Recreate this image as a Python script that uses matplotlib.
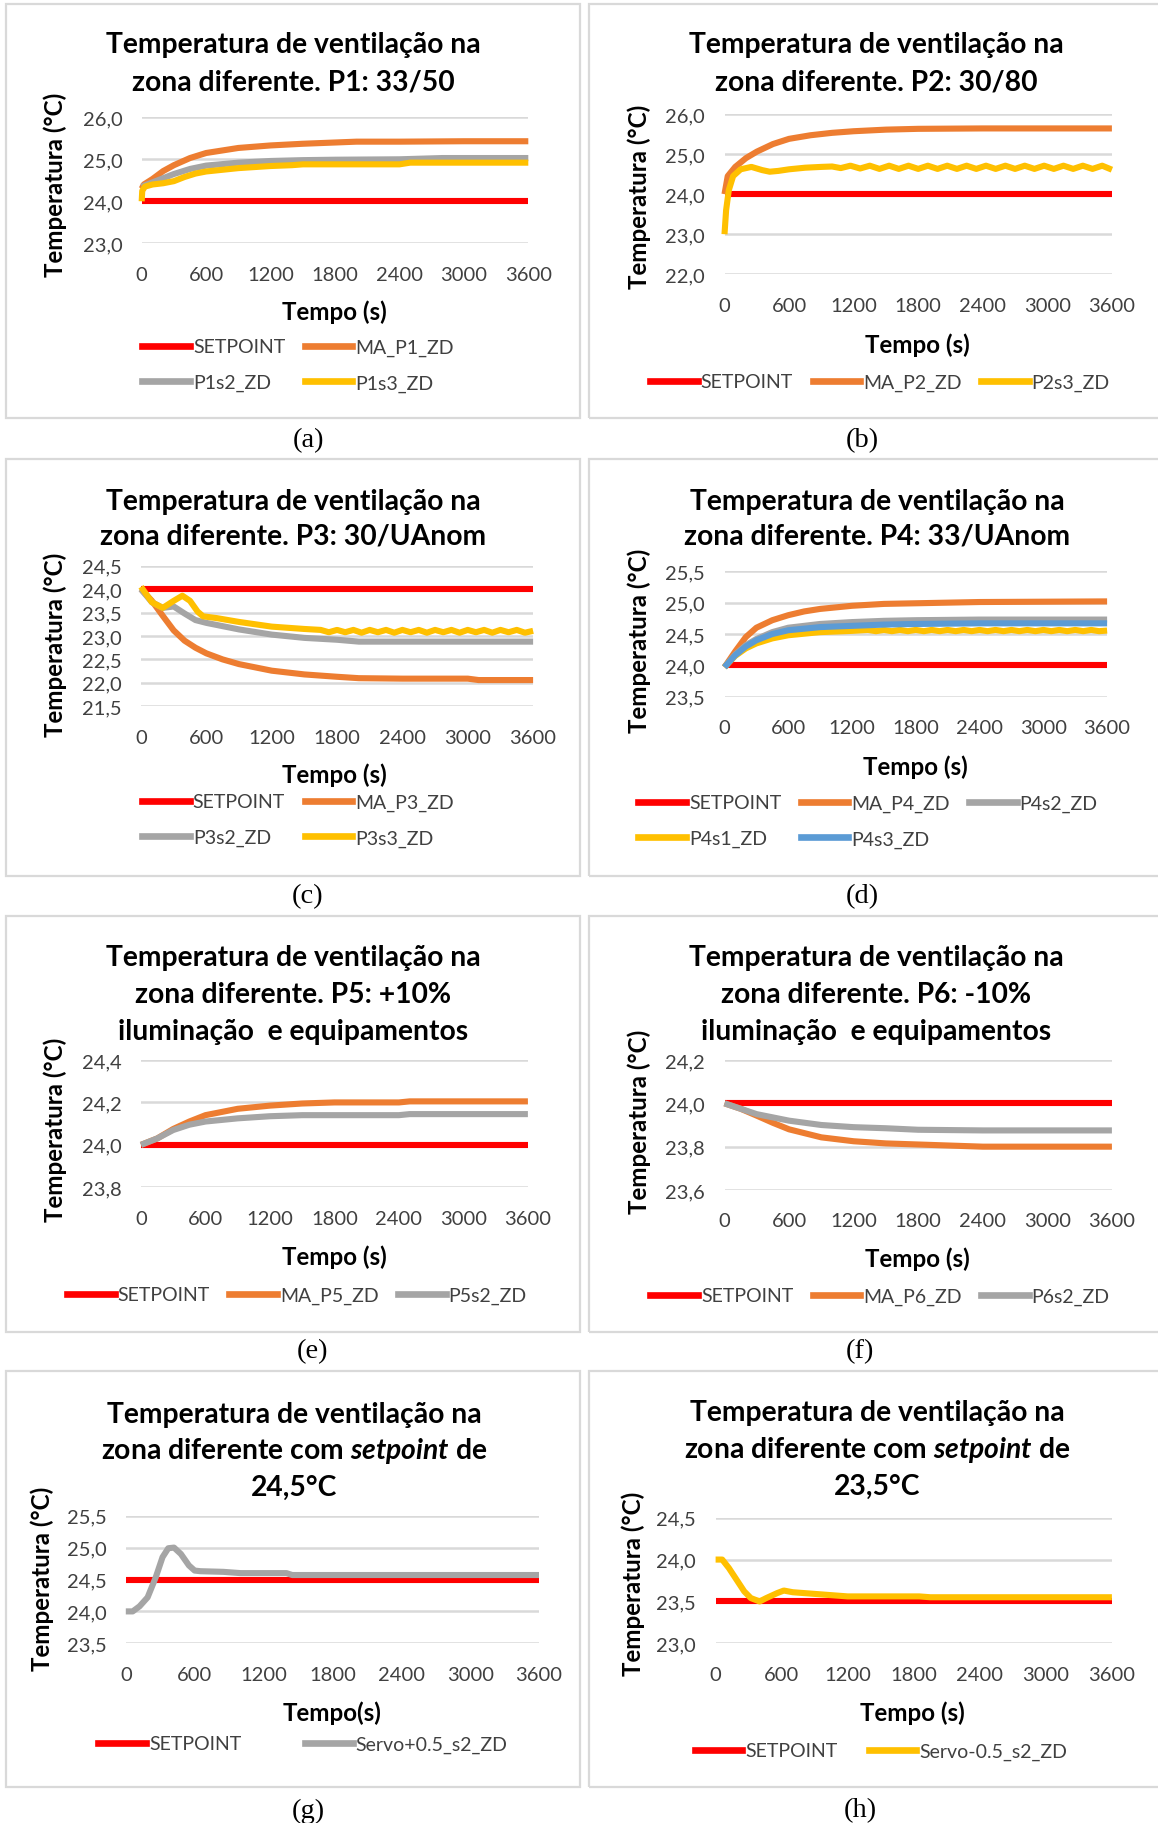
import numpy as np
import matplotlib
matplotlib.use('Agg')
import matplotlib.pyplot as plt
from matplotlib.patches import Rectangle
from matplotlib.lines import Line2D

plt.rcParams['font.family'] = ['Lato', 'DejaVu Sans']
plt.rcParams['mathtext.fontset'] = 'custom'
plt.rcParams['mathtext.rm'] = 'Lato:bold'
plt.rcParams['mathtext.it'] = 'Lato:italic:bold'
plt.rcParams['mathtext.bf'] = 'Lato:bold'

# ---- data ----
T_FULL = [0, 3600]

# (a) P1: 33/50
SP_A = [24.0, 24.0]
T_MA_P1 = [0, 20, 100, 200, 300, 450, 600, 900, 1200, 1500, 1800, 2000, 2400, 3000, 3600]
MA_P1 = [24.3, 24.4, 24.53, 24.72, 24.86, 25.03, 25.15, 25.27, 25.33, 25.37, 25.40, 25.42, 25.42, 25.43, 25.43]
T_P1S2 = [0, 100, 200, 300, 450, 600, 900, 1200, 1500, 1800, 2400, 2800, 3600]
P1S2 = [24.35, 24.45, 24.55, 24.65, 24.77, 24.85, 24.92, 24.96, 24.98, 24.99, 25.0, 25.03, 25.03]
T_P1S3 = [0, 5, 30, 100, 200, 300, 400, 500, 600, 900, 1200, 1400, 1500, 2400, 2500, 3600]
P1S3 = [24.0, 24.25, 24.35, 24.4, 24.43, 24.48, 24.58, 24.66, 24.71, 24.79, 24.84, 24.86, 24.88, 24.88, 24.92, 24.92]

# (b) P2: 30/80
SP_B = [24.0, 24.0]
T_MA_P2 = [0, 30, 100, 200, 300, 450, 600, 800, 1000, 1200, 1500, 1800, 2400, 3600]
MA_P2 = [24.0, 24.45, 24.68, 24.9, 25.06, 25.25, 25.38, 25.47, 25.53, 25.57, 25.61, 25.63, 25.64, 25.64]
T_P2S3 = [0, 15, 40, 80, 150, 250, 350, 420, 500, 600, 750, 900, 1000] + list(range(1080, 3601, 90))
P2S3 = [23.0, 23.6, 24.1, 24.45, 24.62, 24.68, 24.6, 24.56, 24.58, 24.62, 24.66, 24.68, 24.69,
        24.65, 24.71, 24.64, 24.71, 24.63, 24.71, 24.63, 24.71, 24.63, 24.71, 24.63, 24.71,
        24.63, 24.71, 24.63, 24.71, 24.63, 24.71, 24.63, 24.71, 24.63, 24.71, 24.63, 24.71,
        24.63, 24.71, 24.63, 24.71, 24.61]

# (c) P3: 30/UAnom
SP_C = [24.0, 24.0]
T_MA_P3 = [0, 100, 200, 300, 400, 500, 600, 750, 900, 1200, 1500, 1800, 2000, 2400, 3000, 3100, 3600]
MA_P3 = [24.0, 23.75, 23.43, 23.12, 22.9, 22.75, 22.63, 22.5, 22.4, 22.26, 22.18, 22.13, 22.1, 22.09, 22.09, 22.06, 22.06]
T_P3S2 = [0, 100, 200, 300, 400, 500, 600, 900, 1200, 1500, 1800, 2000, 3600]
P3S2 = [24.0, 23.72, 23.6, 23.63, 23.48, 23.34, 23.28, 23.14, 23.03, 22.96, 22.92, 22.88, 22.88]
T_P3S3 = [0, 100, 200, 300, 380, 450, 520, 570, 700, 900, 1200, 1500] + list(range(1650, 3601, 75))
P3S3 = [24.05, 23.72, 23.6, 23.75, 23.86, 23.75, 23.52, 23.42, 23.38, 23.3, 23.2, 23.15,
        23.13, 23.08, 23.13, 23.08, 23.13, 23.07, 23.13, 23.08, 23.13, 23.07, 23.13, 23.08,
        23.13, 23.07, 23.13, 23.08, 23.13, 23.07, 23.13, 23.08, 23.13, 23.07, 23.13, 23.08,
        23.13, 23.07, 23.11]

# (d) P4: 33/UAnom
SP_D = [24.0, 24.0]
T_MA_P4 = [0, 100, 200, 300, 450, 600, 750, 900, 1200, 1500, 1800, 2400, 3600]
MA_P4 = [23.97, 24.22, 24.45, 24.6, 24.72, 24.8, 24.86, 24.9, 24.95, 24.98, 24.99, 25.01, 25.02]
T_P4 = [0, 100, 200, 300, 450, 600, 900, 1200, 1500, 1800, 2400, 3600]
P4S2 = [23.97, 24.17, 24.32, 24.42, 24.53, 24.6, 24.66, 24.69, 24.71, 24.72, 24.73, 24.73]
P4S3 = [23.97, 24.16, 24.3, 24.4, 24.5, 24.56, 24.61, 24.63, 24.65, 24.66, 24.67, 24.67]
T_P4S1 = [0, 100, 200, 300, 450, 600, 900, 1200] + list(range(1350, 3601, 75))
P4S1 = [23.97, 24.15, 24.27, 24.35, 24.43, 24.48, 24.53, 24.55,
        24.565, 24.545, 24.565, 24.545, 24.565, 24.545, 24.565, 24.545, 24.565, 24.545, 24.565,
        24.545, 24.565, 24.545, 24.565, 24.545, 24.565, 24.545, 24.565, 24.545, 24.565, 24.545,
        24.565, 24.545, 24.565, 24.545, 24.565, 24.545, 24.565, 24.545, 24.555]

# (e) P5: +10%
SP_E = [24.0, 24.0]
T_P5 = [0, 150, 300, 450, 600, 900, 1200, 1500, 1800, 2400, 2500, 3600]
MA_P5 = [24.0, 24.03, 24.075, 24.11, 24.14, 24.17, 24.185, 24.195, 24.2, 24.2, 24.205, 24.205]
P5S2 = [24.0, 24.03, 24.07, 24.095, 24.11, 24.125, 24.135, 24.14, 24.14, 24.14, 24.145, 24.145]

# (f) P6: -10%
SP_F = [24.0, 24.0]
T_P6 = [0, 150, 300, 450, 600, 900, 1200, 1500, 1800, 2400, 3600]
MA_P6 = [24.0, 23.975, 23.943, 23.91, 23.88, 23.843, 23.825, 23.815, 23.81, 23.8, 23.8]
P6S2 = [24.0, 23.975, 23.95, 23.935, 23.92, 23.9, 23.89, 23.885, 23.878, 23.875, 23.875]

# (g) setpoint 24,5
SP_G = [24.5, 24.5]
T_SERVO_P = [0, 60, 120, 190, 260, 320, 370, 420, 480, 550, 600, 650, 850, 1000, 1400, 1450, 3600]
SERVO_P = [24.0, 24.0, 24.08, 24.22, 24.53, 24.85, 24.99, 25.0, 24.9, 24.72, 24.64, 24.63, 24.62, 24.6, 24.6, 24.57, 24.57]

# (h) setpoint 23,5
SP_H = [23.5, 23.5]
T_SERVO_M = [0, 60, 120, 200, 260, 320, 400, 460, 560, 620, 700, 900, 1200, 1850, 1950, 3600]
SERVO_M = [24.0, 24.0, 23.9, 23.74, 23.62, 23.54, 23.5, 23.54, 23.6, 23.63, 23.61, 23.59, 23.56, 23.56, 23.55, 23.55]

X_TICKS = [0, 600, 1200, 1800, 2400, 3000, 3600]

RED = '#FF0000'
ORANGE = '#ED7D31'
GRAY = '#A5A5A5'
YELLOW = '#FFC000'
BLUE = '#5B9BD5'

TITLE_A = 'Temperatura de ventilação na'

panels = [
    dict(tag='(a)', title=[TITLE_A, 'zona diferente. P1: 33/50'],
         series=[('SETPOINT', T_FULL, SP_A, RED), ('MA_P1_ZD', T_MA_P1, MA_P1, ORANGE),
                 ('P1s2_ZD', T_P1S2, P1S2, GRAY), ('P1s3_ZD', T_P1S3, P1S3, YELLOW)],
         legend_order=[0, 2, 1, 3], ncol=2, yticks=[23.0, 24.0, 25.0, 26.0], xlabel='Tempo (s)'),
    dict(tag='(b)', title=[TITLE_A, 'zona diferente. P2: 30/80'],
         series=[('SETPOINT', T_FULL, SP_B, RED), ('MA_P2_ZD', T_MA_P2, MA_P2, ORANGE),
                 ('P2s3_ZD', T_P2S3, P2S3, YELLOW)],
         legend_order=[0, 1, 2], ncol=3, yticks=[22.0, 23.0, 24.0, 25.0, 26.0], xlabel='Tempo (s)'),
    dict(tag='(c)', title=[TITLE_A, 'zona diferente. P3: 30/UAnom'],
         series=[('SETPOINT', T_FULL, SP_C, RED), ('MA_P3_ZD', T_MA_P3, MA_P3, ORANGE),
                 ('P3s2_ZD', T_P3S2, P3S2, GRAY), ('P3s3_ZD', T_P3S3, P3S3, YELLOW)],
         legend_order=[0, 2, 1, 3], ncol=2, yticks=[21.5, 22.0, 22.5, 23.0, 23.5, 24.0, 24.5],
         xlabel='Tempo (s)'),
    dict(tag='(d)', title=[TITLE_A, 'zona diferente. P4: 33/UAnom'],
         series=[('SETPOINT', T_FULL, SP_D, RED), ('MA_P4_ZD', T_MA_P4, MA_P4, ORANGE),
                 ('P4s2_ZD', T_P4, P4S2, GRAY), ('P4s1_ZD', T_P4S1, P4S1, YELLOW),
                 ('P4s3_ZD', T_P4, P4S3, BLUE)],
         legend_order=[0, 3, 1, 4, 2], ncol=3, yticks=[23.5, 24.0, 24.5, 25.0, 25.5],
         xlabel='Tempo (s)'),
    dict(tag='(e)', title=[TITLE_A, 'zona diferente. P5: +10%', 'iluminação  e equipamentos'],
         series=[('SETPOINT', T_FULL, SP_E, RED), ('MA_P5_ZD', T_P5, MA_P5, ORANGE),
                 ('P5s2_ZD', T_P5, P5S2, GRAY)],
         legend_order=[0, 1, 2], ncol=3, yticks=[23.8, 24.0, 24.2, 24.4], xlabel='Tempo (s)'),
    dict(tag='(f)', title=[TITLE_A, 'zona diferente. P6: -10%', 'iluminação  e equipamentos'],
         series=[('SETPOINT', T_FULL, SP_F, RED), ('MA_P6_ZD', T_P6, MA_P6, ORANGE),
                 ('P6s2_ZD', T_P6, P6S2, GRAY)],
         legend_order=[0, 1, 2], ncol=3, yticks=[23.6, 23.8, 24.0, 24.2], xlabel='Tempo (s)'),
    dict(tag='(g)', title=[TITLE_A, r'zona diferente com $\mathit{setpoint}$ de', '24,5°C'],
         series=[('SETPOINT', T_FULL, SP_G, RED), ('Servo+0.5_s2_ZD', T_SERVO_P, SERVO_P, GRAY)],
         legend_order=[0, 1], ncol=2, yticks=[23.5, 24.0, 24.5, 25.0, 25.5], xlabel='Tempo(s)'),
    dict(tag='(h)', title=[TITLE_A, r'zona diferente com $\mathit{setpoint}$ de', '23,5°C'],
         series=[('SETPOINT', T_FULL, SP_H, RED), ('Servo-0.5_s2_ZD', T_SERVO_M, SERVO_M, YELLOW)],
         legend_order=[0, 1], ncol=2, yticks=[23.0, 23.5, 24.0, 24.5], xlabel='Tempo (s)'),
]

# ---- layout in pixels of the 1158x1824 page ----
W, H = 1158, 1824
AX_PX = [(141.7, 528.3, 118.3, 244.3), (724.5, 1111.9, 115.0, 275.3),
         (141.0, 533.1, 566.7, 707.3), (724.5, 1107.1, 572.3, 697.7),
         (141.0, 527.9, 1061.0, 1188.3), (724.5, 1111.9, 1061.0, 1191.0),
         (125.8, 539.0, 1516.7, 1644.3), (715.6, 1111.9, 1518.7, 1644.3)]
BOX_X = [(6, 580), (589, 1162)]
BOX_Y = [(5, 419), (460, 877), (917, 1333), (1372, 1788)]
TITLE_PX = [(293, [45, 82]), (876, [45, 82]), (293, [502, 537]), (877, [502, 537]),
            (293, [958, 995, 1032]), (876, [958, 995, 1032]),
            (294, [1415, 1451, 1488]), (877, [1413, 1450, 1487])]
YLAB_PX = [(55.5, 185), (639, 197), (55.5, 645), (639, 641),
           (55.5, 1130), (639, 1122), (42.5, 1579), (633.4, 1584)]
XLAB_PX = [(334, 312), (917, 345), (334, 775), (915, 767),
           (334, 1257), (917, 1259), (332, 1713), (912, 1713)]
LEG_PX = [(298, 366), (880, 383), (298, 821), (868, 822),
          (297, 1296), (880, 1297), (303, 1745), (881, 1752)]
LEG_COLSP = [1.0, 1.0, 1.0, 1.0, 1.0, 1.0, 3.3, 1.6]
CAP_PX = [(308, 441), (862, 441), (308, 897), (862, 897),
          (313, 1352), (860, 1352), (308, 1811), (860, 1811)]

TITLE_FS = 20.3
LABEL_FS = 17.4
TICK_FS = 14.5
LEG_FS = 14.0
CAP_FS = 20.5
LW = 4.4
TEXT_GRAY = '#404040'


def fx(px):
    return px / W


def fy(py):
    return 1 - py / H


fig = plt.figure(figsize=(W / 100, H / 100), dpi=100)

for i, p in enumerate(panels):
    row, col = divmod(i, 2)
    bx0, bx1 = BOX_X[col]
    by0, by1 = BOX_Y[row]
    fig.patches.append(Rectangle((fx(bx0), fy(by1)), (bx1 - bx0) / W, (by1 - by0) / H,
                                 transform=fig.transFigure, fill=False,
                                 edgecolor='#D9D9D9', linewidth=1.6))

    x0, x1, yt, yb = AX_PX[i]
    ax = fig.add_axes([fx(x0), fy(yb), (x1 - x0) / W, (yb - yt) / H])
    handles = []
    for label, t, v, color in p['series']:
        ln, = ax.plot(t, v, color=color, lw=LW, label=label, clip_on=False,
                      solid_joinstyle='round', solid_capstyle='butt')
        handles.append(ln)
    ax.set_xlim(0, 3600)
    ax.set_ylim(p['yticks'][0], p['yticks'][-1])
    ax.set_xticks(X_TICKS)
    ax.set_xticklabels([str(x) for x in X_TICKS])
    ax.set_yticks(p['yticks'])
    ax.set_yticklabels([f'{y:.1f}'.replace('.', ',') for y in p['yticks']])
    ax.tick_params(length=0, labelsize=TICK_FS, labelcolor=TEXT_GRAY)
    ax.tick_params(axis='x', pad=16)
    ax.tick_params(axis='y', pad=14)
    ax.grid(axis='y', color='#D9D9D9', lw=1.8)
    ax.set_axisbelow(True)
    for s in ax.spines.values():
        s.set_visible(False)

    cx, ys = TITLE_PX[i]
    for line, yy in zip(p['title'], ys):
        fig.text(fx(cx), fy(yy), line, ha='center', va='center',
                 fontsize=TITLE_FS, fontweight='bold')

    lx, ly = YLAB_PX[i]
    fig.text(fx(lx), fy(ly), 'Temperatura (°C)', rotation=90, ha='center', va='center',
             fontsize=LABEL_FS, fontweight='bold')
    lx, ly = XLAB_PX[i]
    fig.text(fx(lx), fy(ly), p['xlabel'], ha='center', va='center',
             fontsize=LABEL_FS, fontweight='bold')

    lh = [Line2D([0], [0], color=handles[k].get_color(), lw=LW + 0.4) for k in p['legend_order']]
    ll = [handles[k].get_label() for k in p['legend_order']]
    gx, gy = LEG_PX[i]
    fig.legend(lh, ll, loc='center', bbox_to_anchor=(fx(gx), fy(gy)), ncol=p['ncol'],
               frameon=False, fontsize=LEG_FS, handlelength=2.45, handletextpad=0.15,
               columnspacing=LEG_COLSP[i], labelspacing=0.95, borderpad=0,
               labelcolor=TEXT_GRAY)

    cx, cy = CAP_PX[i]
    fig.text(fx(cx), fy(cy), p['tag'], ha='center', va='center', fontsize=CAP_FS,
             family='Liberation Serif')

fig.savefig('out.png', dpi=100)
